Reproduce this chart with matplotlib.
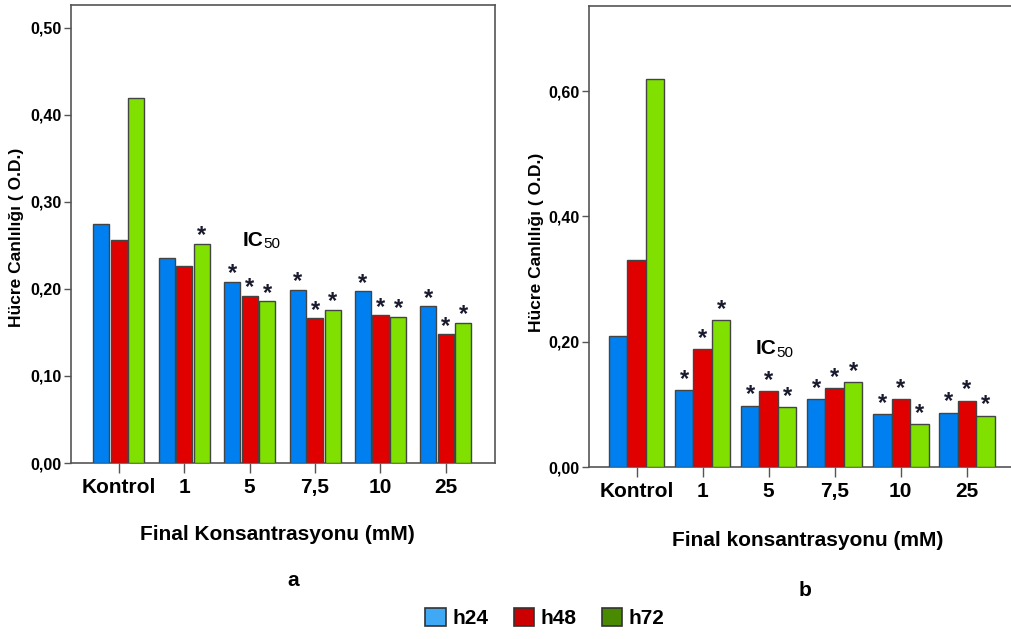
import numpy as np
import matplotlib.pyplot as plt
from matplotlib.patches import Patch

plt.rcParams['font.family'] = ['Liberation Sans', 'DejaVu Sans']
plt.rcParams['font.weight'] = 'bold'

categories = ['Kontrol', '1', '5', '7,5', '10', '25']
series = ['h24', 'h48', 'h72']

# panel a
a_h24 = [0.274, 0.235, 0.208, 0.199, 0.197, 0.180]
a_h48 = [0.256, 0.226, 0.192, 0.166, 0.170, 0.148]
a_h72 = [0.419, 0.252, 0.186, 0.176, 0.168, 0.161]
a_star_h24 = [False, False, True, True, True, True]
a_star_h48 = [False, False, True, True, True, True]
a_star_h72 = [False, True, True, True, True, True]

# panel b
b_h24 = [0.209, 0.123, 0.098, 0.108, 0.085, 0.087]
b_h48 = [0.331, 0.188, 0.121, 0.126, 0.108, 0.106]
b_h72 = [0.619, 0.235, 0.095, 0.136, 0.069, 0.082]
b_star_h24 = [False, True, True, True, True, True]
b_star_h48 = [False, True, True, True, True, True]
b_star_h72 = [False, True, True, True, True, True]

bar_colors = ['#0080f0', '#e00000', '#80e000']
legend_colors = ['#3fa9f5', '#cc0000', '#4a8a00']

W, H = 1012, 639
fig = plt.figure(figsize=(W / 100, H / 100), dpi=100)


def px(x, y):
    return x / W, 1 - y / H


def draw_panel(rect, vals, stars, ylim, yticks, xlim, width, step, star_off):
    ax = fig.add_axes(rect)
    x = np.arange(len(categories))
    for i, (v, s) in enumerate(zip(vals, stars)):
        pos = x + (i - 1) * step
        ax.bar(pos, v, width=width, color=bar_colors[i], edgecolor='#444444',
               linewidth=1.0, zorder=3)
        for xx, vv, ss in zip(pos, v, s):
            if ss:
                ax.annotate('*', (xx, vv), xytext=(0, star_off), textcoords='offset points',
                            ha='center', va='baseline', fontsize=17, fontweight='bold',
                            color='#1a1a2e')
    ax.set_xlim(*xlim)
    ax.set_ylim(*ylim)
    ax.set_yticks(yticks)
    ax.set_yticklabels([f'{t:.2f}'.replace('.', ',') for t in yticks], fontsize=11.5)
    ax.set_xticks(x)
    ax.set_xticklabels(categories, fontsize=15)
    ax.tick_params(axis='y', length=5, width=1, color='#555555', pad=2)
    ax.tick_params(axis='x', length=7, width=1, color='#555555', pad=4)
    for sp in ax.spines.values():
        sp.set_color('#555555')
        sp.set_linewidth(1.2)
    return ax


ax_a = draw_panel([71 / W, 1 - 463 / H, 424 / W, 458 / H],
                  [a_h24, a_h48, a_h72], [a_star_h24, a_star_h48, a_star_h72],
                  (0, 0.526), [0, 0.1, 0.2, 0.3, 0.4, 0.5], (-0.73, 5.75), 0.245, 0.268, 1)

ax_b = draw_panel([589 / W, 1 - 467 / H, 430 / W, 461 / H],
                  [b_h24, b_h48, b_h72], [b_star_h24, b_star_h48, b_star_h72],
                  (0, 0.736), [0, 0.2, 0.4, 0.6], (-0.72, 5.79), 0.28, 0.28, 3)
ax_b.spines['right'].set_visible(False)

# axis titles
fig.text(*px(17, 237), 'Hücre Canlılığı ( O.D.)', rotation=90, ha='center', va='center', fontsize=12.5)
fig.text(*px(537, 242), 'Hücre Canlılığı ( O.D.)', rotation=90, ha='center', va='center', fontsize=12.5)
fig.text(*px(277, 535), 'Final Konsantrasyonu (mM)', ha='center', va='center', fontsize=15)
fig.text(*px(808, 541), 'Final konsantrasyonu (mM)', ha='center', va='center', fontsize=15)
fig.text(*px(293, 580), 'a', ha='center', va='center', fontsize=15)
fig.text(*px(805, 590), 'b', ha='center', va='center', fontsize=15)

# IC50 markers
for (xi, yi) in [(243, 240), (756, 349)]:
    fig.text(*px(xi, yi), 'IC', ha='left', va='center', fontsize=15)
    fig.text(*px(xi + 20, yi + 4), '50', ha='left', va='center', fontsize=11, fontweight='normal')

handles = [Patch(facecolor=c, edgecolor='#333333', linewidth=1.2) for c in legend_colors]
fig.legend(handles, series, loc='center', bbox_to_anchor=px(545, 618), ncol=3,
           frameon=False, fontsize=15, handlelength=1.0, handleheight=1.0,
           handletextpad=0.3, columnspacing=1.2)

fig.savefig('out.png', dpi=100)
